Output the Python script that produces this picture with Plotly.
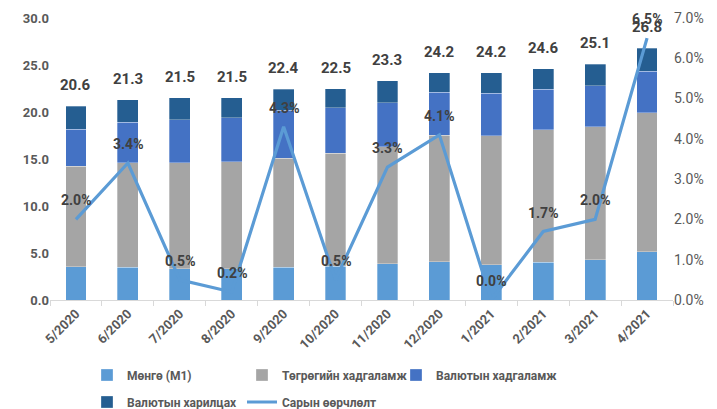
import plotly.graph_objects as go

categories = ["5/2020", "6/2020", "7/2020", "8/2020", "9/2020", "10/2020",
              "11/2020", "12/2020", "1/2021", "2/2021", "3/2021", "4/2021"]
m1 = [3.55, 3.47, 3.33, 3.33, 3.47, 3.60, 3.87, 4.08, 3.76, 4.00, 4.29, 5.14]
tugrug_dep = [10.70, 11.13, 11.27, 11.37, 11.63, 12.00, 12.43, 13.47, 13.74, 14.10, 14.15, 14.79]
fx_dep = [3.90, 4.30, 4.60, 4.70, 5.10, 4.85, 4.70, 4.55, 4.50, 4.30, 4.36, 4.43]
fx_cur = [2.45, 2.40, 2.30, 2.10, 2.20, 2.05, 2.30, 2.10, 2.20, 2.20, 2.30, 2.44]
totals = [20.6, 21.3, 21.5, 21.5, 22.4, 22.5, 23.3, 24.2, 24.2, 24.6, 25.1, 26.8]
monthly_change = [2.0, 3.4, 0.5, 0.2, 4.3, 0.5, 3.3, 4.1, 0.0, 1.7, 2.0, 6.5]

FONT = "Roboto"
LBL = "#595959"
DARK = "#404040"

fig = go.Figure()
bar_specs = [
    ("Мөнгө (M1)", m1, "#5B9BD5", "legend"),
    ("Төгрөгийн хадгаламж", tugrug_dep, "#A5A5A5", "legend2"),
    ("Валютын хадгаламж", fx_dep, "#4472C4", "legend3"),
    ("Валютын харилцах", fx_cur, "#255E91", "legend4"),
]
for name, vals, col, lg in bar_specs:
    fig.add_trace(go.Bar(x=categories, y=vals, name=name, marker_color=col,
                         marker_line=dict(color="rgba(255,255,255,0.5)", width=0.6),
                         legend=lg, showlegend=True))

fig.add_trace(go.Scatter(x=categories, y=monthly_change, name="Сарын өөрчлөлт",
                         mode="lines", line=dict(color="#5B9BD5", width=3.2),
                         yaxis="y2", legend="legend5", showlegend=True))

annotations = []
for c, t in zip(categories, totals):
    annotations.append(dict(x=c, y=t, xref="x", yref="y", text=f"<b>{t:.1f}</b>",
                            showarrow=False, yanchor="bottom", yshift=10,
                            font=dict(family=FONT, size=15, color=DARK)))
for c, v in zip(categories, monthly_change):
    annotations.append(dict(x=c, y=v, xref="x", yref="y2", text=f"<b>{v:.1f}%</b>",
                            showarrow=False, yanchor="bottom", yshift=9,
                            font=dict(family=FONT, size=14, color=DARK)))

def legend_at(x_px, y_px):
    return dict(orientation="h", xref="container", yref="container",
                x=x_px / 717, xanchor="left", y=1 - y_px / 409, yanchor="middle",
                bgcolor="rgba(0,0,0,0)",
                font=dict(family=FONT, size=12, color=LBL, weight="bold"))

fig.update_layout(
    width=717, height=409, showlegend=True,
    margin=dict(l=50, r=44, t=18, b=109, autoexpand=False),
    paper_bgcolor="white", plot_bgcolor="white",
    barmode="stack", bargap=0.6,
    font=dict(family=FONT, color=LBL, size=13),
    annotations=annotations,
    xaxis=dict(type="category", showgrid=False, showline=True, linecolor="#D9D9D9",
               linewidth=1, ticks="outside", tickson="boundaries", ticklen=5,
               tickcolor="#D9D9D9", tickangle=-45, automargin=False,
               tickfont=dict(family=FONT, size=13, color=LBL, weight="bold")),
    yaxis=dict(range=[0, 30], dtick=5, tickformat=".1f", showgrid=False,
               zeroline=False, showline=False, automargin=False,
               tickfont=dict(family=FONT, size=13, color=LBL, weight="bold")),
    yaxis2=dict(range=[0, 7], dtick=1, tickformat=".1f", ticksuffix="%",
                overlaying="y", side="right", showgrid=False, zeroline=False,
                showline=False, automargin=False,
                tickfont=dict(family=FONT, size=14, color=LBL)),
    legend=legend_at(87, 375),
    legend2=legend_at(242, 375),
    legend3=legend_at(396, 375),
    legend4=legend_at(87, 402),
    legend5=legend_at(242, 402),
)

fig.write_html("out.html", config={"displayModeBar": False})

# remove default page margin so the figure sits at the window's top-left
with open("out.html", "r", encoding="utf-8") as f:
    html = f.read()
html = html.replace("<head>", "<head><style>html,body{margin:0;padding:0;overflow:hidden;}</style>", 1)
with open("out.html", "w", encoding="utf-8") as f:
    f.write(html)
